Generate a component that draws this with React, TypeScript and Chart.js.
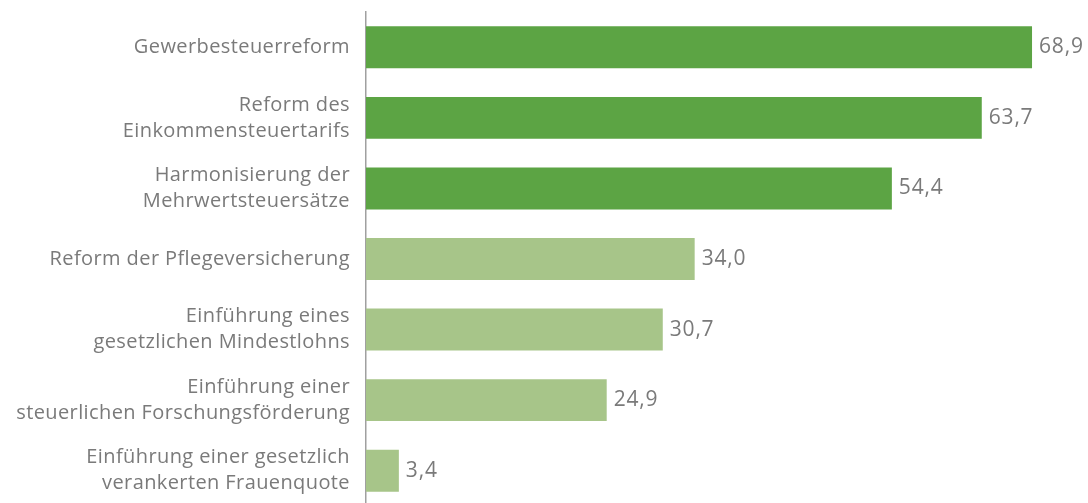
import React, { useEffect, useRef } from "react";
import { Chart, registerables } from "chart.js";

Chart.register(...registerables);

const categories: (string | string[])[] = [
  "Gewerbesteuerreform",
  ["Reform des", "Einkommensteuertarifs"],
  ["Harmonisierung der", "Mehrwertsteuersätze"],
  "Reform der Pflegeversicherung",
  ["Einführung eines", "gesetzlichen Mindestlohns"],
  ["Einführung einer", "steuerlichen Forschungsförderung"],
  ["Einführung einer gesetzlich", "verankerten Frauenquote"],
];
const values = [68.9, 63.7, 54.4, 34.0, 30.7, 24.9, 3.4];
const highlighted = [true, true, true, false, false, false, false];

const DARK = "#5ca444";
const LIGHT = "#a7c589";
const TEXT = "#7a7a7a";
const FONT = "'Open Sans', sans-serif";

export default function App() {
  const ref = useRef<HTMLCanvasElement>(null);
  useEffect(() => {
    const canvas = ref.current;
    if (!canvas) return;
    const spacingPlugin = {
      id: "letterSpacing",
      beforeDraw(chart: any) {
        (chart.ctx as any).letterSpacing = "0.4px";
      },
    };
    const labelPlugin = {
      id: "valueLabels",
      afterDatasetsDraw(chart: any) {
        const { ctx } = chart;
        const meta = chart.getDatasetMeta(0);
        ctx.save();
        (ctx as any).letterSpacing = "0.8px";
        ctx.font = `21px ${FONT}`;
        ctx.fillStyle = TEXT;
        ctx.textAlign = "left";
        ctx.textBaseline = "middle";
        meta.data.forEach((bar: any, i: number) => {
          ctx.fillText(values[i].toFixed(1).replace(".", ","), bar.x + 7, bar.y);
        });
        ctx.restore();
      },
    };
    const chart = new Chart(canvas, {
      type: "bar",
      data: {
        labels: categories,
        datasets: [
          {
            data: values,
            backgroundColor: highlighted.map((h) => (h ? DARK : LIGHT)),
            barPercentage: 0.594,
            categoryPercentage: 1,
          },
        ],
      },
      options: {
        indexAxis: "y",
        animation: false,
        responsive: false,
        maintainAspectRatio: false,
        layout: { padding: { top: 12, right: 26, bottom: 0, left: 0 } },
        plugins: { legend: { display: false }, tooltip: { enabled: false } },
        scales: {
          x: { display: false, min: 0, max: 72 },
          y: {
            afterFit(scale: any) {
              scale.width = 366;
              scale.paddingTop = 0;
              scale.paddingBottom = 0;
            },
            grid: { display: false, drawTicks: false },
            border: { display: true, color: "#a0a0a0", width: 1.5 },
            ticks: {
              padding: 16,
              color: TEXT,
              font: { family: FONT, size: 20, lineHeight: 1.3 },
            },
          },
        },
      },
      plugins: [spacingPlugin, labelPlugin],
    });
    return () => chart.destroy();
  }, []);
  return (
    <div style={{ position: "fixed", left: 0, top: 0, width: 1088, height: 506, background: "#fff" }}>
      <canvas ref={ref} width={1088} height={506} style={{ display: "block" }} />
    </div>
  );
}
